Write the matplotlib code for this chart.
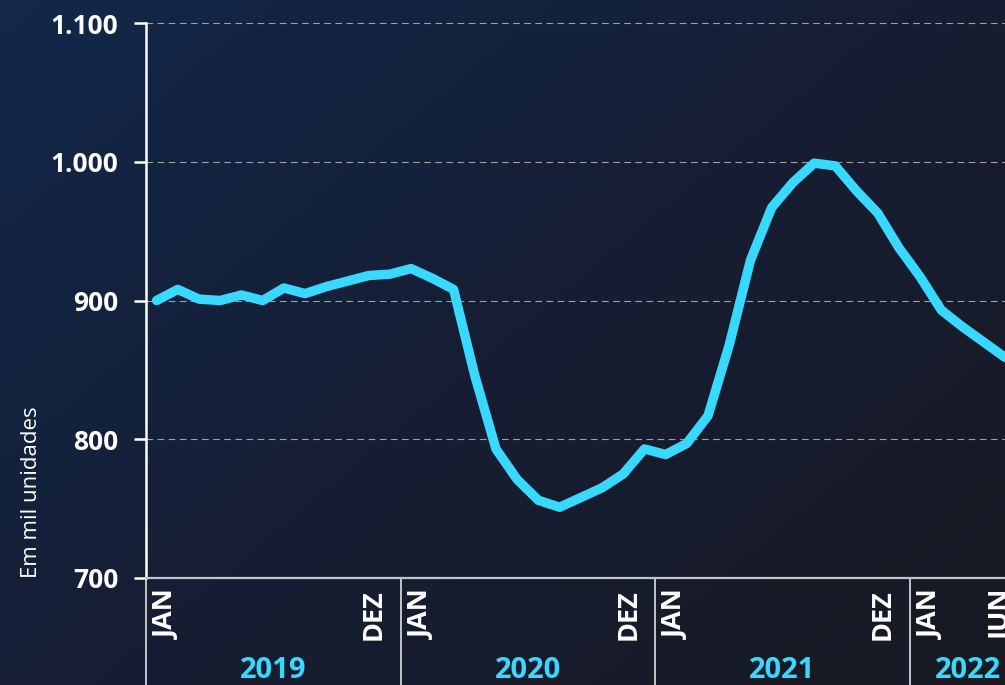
import numpy as np
import matplotlib.pyplot as plt
from matplotlib.colors import LinearSegmentedColormap
from matplotlib.transforms import blended_transform_factory

# dados: vendas mensais (mil unidades), jan/2019 a mai/2022
valores = [900, 908, 901, 900, 904, 900, 909, 905, 910, 914, 918, 919,
           923, 916, 908, 846, 793, 771, 756, 751, 758, 765, 775, 793,
           789, 797, 817, 868, 929, 967, 985, 999, 997, 979, 963, 938,
           917, 893, 881, 870, 859]
rotulos_mes = ['JAN', 'DEZ', 'JAN', 'DEZ', 'JAN', 'DEZ', 'JAN', 'JUN']
idx_mes = [0, 11, 12, 23, 24, 35, 36, 41]
anos = ['2019', '2020', '2021', '2022']
limites_ano = [-0.5, 11.5, 23.5, 35.5, 41.0]
yticks = [700, 800, 900, 1000, 1100]

CIANO = '#38d8ff'
fonte = 'Open Sans'

fig = plt.figure(figsize=(10.05, 6.85), dpi=100)

# fundo em degrade diagonal
bg = fig.add_axes([0, 0, 1, 1], zorder=-10)
bg.axis('off')
gx, gy = np.meshgrid(np.linspace(0, 1, 300), np.linspace(0, 1, 300))
grad = (gx * 0.55 + gy * 0.45)
cmap = LinearSegmentedColormap.from_list('bg', ['#12284a', '#161e34', '#181a22'])
bg.imshow(grad, cmap=cmap, aspect='auto', extent=[0, 1, 0, 1], origin='upper')

ax = fig.add_axes([146 / 1005, 107 / 685, 859 / 1005, 555 / 685])
ax.patch.set_alpha(0)

x = np.arange(len(valores))
ax.plot(x, valores, color=CIANO, lw=6.8, solid_capstyle='round',
        solid_joinstyle='round', zorder=5)

ax.set_xlim(-0.5, 40.0)
ax.set_ylim(700, 1100)
ax.set_yticks(yticks)
ax.set_yticklabels([f'{v:,}'.replace(',', '.') for v in yticks],
                   fontfamily=fonte, fontweight='bold', fontsize=19, color='white')
ax.tick_params(axis='y', length=9, width=1.8, color='white', pad=11)
ax.set_xticks([])

for v in yticks[1:]:
    ax.axhline(v, color='#a0a0a0', lw=0.8, ls=(0, (6, 4)), zorder=1, clip_on=False)

for s in ['top', 'right']:
    ax.spines[s].set_visible(False)
ax.spines['left'].set_color('white')
ax.spines['left'].set_linewidth(1.8)
ax.spines['bottom'].set_color('#c4c4c4')
ax.spines['bottom'].set_linewidth(1.6)

tr = blended_transform_factory(ax.transData, ax.transAxes)

# separadores de ano
for b in limites_ano[:-1]:
    ax.plot([b, b], [0, -0.2], color='#c4c4c4', lw=1.4, transform=tr, clip_on=False)

# rotulos dos meses
desloc = {'JAN': 0.5, 'DEZ': -0.75, 'JUN': -1.1}
for lab, i in zip(rotulos_mes, idx_mes):
    ax.text(i + desloc[lab], -0.02, lab, transform=tr, rotation=90,
            ha='center', va='top', color='white', fontfamily=fonte,
            fontweight='bold', fontsize=19.5)

# rotulos dos anos
for k, ano in enumerate(anos):
    xc = (limites_ano[k] + limites_ano[k + 1]) / 2
    ax.text(xc, -0.166, ano, transform=tr, ha='center', va='center',
            color=CIANO, fontfamily=fonte, fontweight='bold', fontsize=21)

fig.text(32 / 1005, 1 - 492 / 685, 'Em mil unidades', rotation=90,
         ha='center', va='center', color='white', fontfamily=fonte, fontsize=16)

fig.savefig('out.png', dpi=100)
